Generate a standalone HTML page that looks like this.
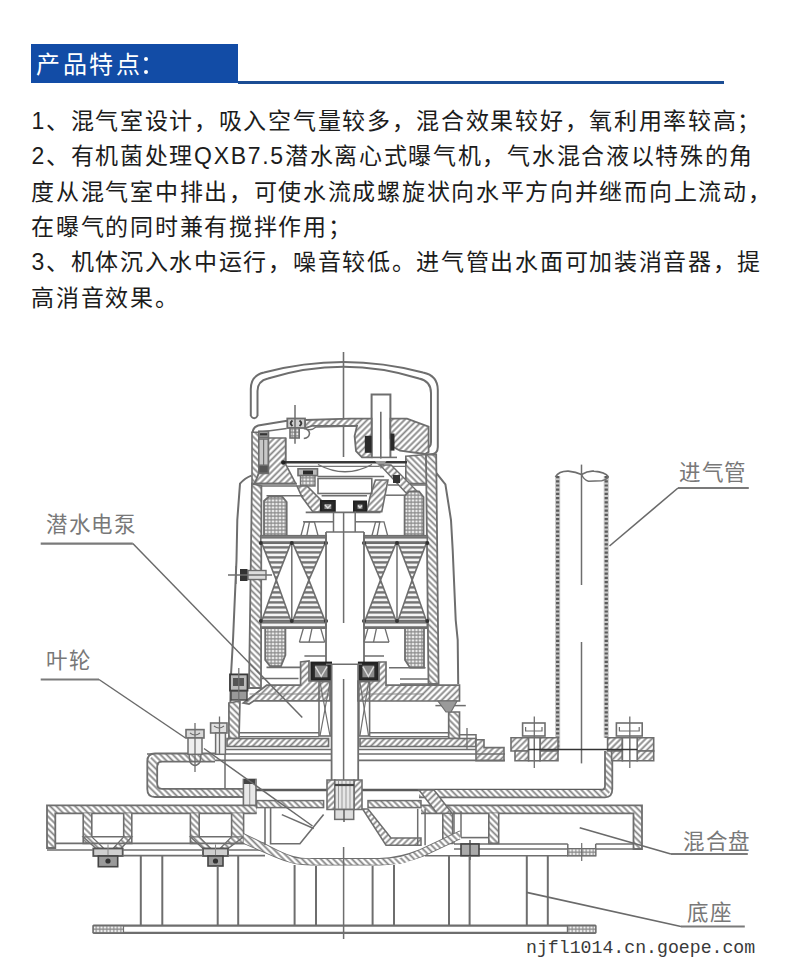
<!DOCTYPE html>
<html lang="zh-CN"><head><meta charset="utf-8">
<style>
html,body{margin:0;padding:0;background:#fff;}
body{width:790px;height:965px;position:relative;overflow:hidden;font-family:"Liberation Sans",sans-serif;}
.hdr{position:absolute;left:31px;top:44px;width:207px;height:39px;background:#124ca6;}
.dot{position:absolute;left:112.7px;width:4.6px;height:4.6px;border-radius:50%;background:#fff;}
.hdr span{position:absolute;left:5px;top:5.8px;color:#fff;font-size:24px;line-height:30px;white-space:nowrap;letter-spacing:2.5px;}
.hline{position:absolute;left:238px;top:81px;width:486px;height:2.8px;background:#1b4d94;}
.txt{position:absolute;left:31.4px;top:104.1px;font-size:23px;line-height:35.3px;letter-spacing:1.7px;color:#1c1c1c;white-space:nowrap;}
svg{position:absolute;left:0;top:0;}
.lbl{position:absolute;font-family:"Liberation Serif",serif;font-size:21.5px;line-height:24px;color:#787878;white-space:nowrap;font-weight:300;letter-spacing:0.6px;}
.wm{position:absolute;left:526px;top:938px;font-family:"Liberation Mono",monospace;font-size:18.2px;line-height:20px;color:#3a3a3a;white-space:nowrap;}
</style></head><body>
<div class="hdr"><span>产品特点</span><i class="dot" style="top:12.6px"></i><i class="dot" style="top:25.8px"></i></div>
<div class="hline"></div>
<div class="txt">1、混气室设计，吸入空气量较多，混合效果较好，氧利用率较高；<br>2、有机菌处理QXB7.5潜水离心式曝气机，气水混合液以特殊的角<br>度从混气室中排出，可使水流成螺旋状向水平方向并继而向上流动，<br>在曝气的同时兼有搅拌作用；<br>3、机体沉入水中运行，噪音较低。进气管出水面可加装消音器，提<br>高消音效果。</div>
<svg width="790" height="965" viewBox="0 0 790 965">
<defs>
<pattern id="ha" patternUnits="userSpaceOnUse" width="4.4" height="4.4" patternTransform="rotate(-45)"><rect width="4.4" height="4.4" fill="#fff"/><rect y="1.3" width="4.4" height="1.8" fill="#858585"/></pattern>
<pattern id="hb" patternUnits="userSpaceOnUse" width="4.4" height="4.4" patternTransform="rotate(45)"><rect width="4.4" height="4.4" fill="#fff"/><rect y="1.3" width="4.4" height="1.8" fill="#858585"/></pattern>
<pattern id="xh" patternUnits="userSpaceOnUse" width="3.5" height="3.5"><rect width="3.5" height="3.5" fill="#f0f0f0"/><path d="M0,1.75H3.5M1.75,0V3.5" stroke="#8a8a8a" stroke-width="1.1"/></pattern>
<pattern id="st" patternUnits="userSpaceOnUse" width="4" height="5"><rect width="4" height="5" fill="#f4f4f4"/><rect y="1.2" width="4" height="2.4" fill="#747474"/></pattern>
<pattern id="dt" patternUnits="userSpaceOnUse" x="555" y="0" width="5.1" height="4.2"><rect width="5.1" height="4.2" fill="#c4c4c4"/><rect x="1" y="0.8" width="3.1" height="2.2" fill="#5e5e5e"/></pattern>
</defs>
<path d="M250.8,416 L250.8,389 Q250.8,375.5 264,372.5 Q343.5,351.5 423,372.5 Q437.8,375.5 437.8,390 L437.8,447 Q437.8,454.5 430,454.5 L426,454.5" stroke="#6e6e6e" stroke-width="2" fill="none"/>
<path d="M257.5,416 L257.5,391 Q257.5,381 268,378.5 Q343.5,355 419,378.5 Q431,381 431,393 L431,442 Q431,448 426,448" stroke="#6e6e6e" stroke-width="2" fill="none"/>
<path d="M250.8,416 Q254.2,420.5 257.5,416" stroke="#6e6e6e" stroke-width="2" fill="none"/>
<line x1="343.5" y1="352" x2="343.5" y2="457" stroke="#6e6e6e" stroke-width="1.6"/>
<path d="M371.6,458 L371.6,394.4 L390.4,394.4 L390.4,458" stroke="#6e6e6e" stroke-width="2" fill="none"/>
<line x1="380.8" y1="411.8" x2="380.8" y2="458.5" stroke="#6e6e6e" stroke-width="1.6"/>
<line x1="371.6" y1="457.4" x2="397" y2="457.4" stroke="#6e6e6e" stroke-width="1.6"/>
<path d="M305,420 L350,418.7 L371.6,418.7 L371.6,457.4 L362,457.4 L356,451 L354.6,436 L357,425.8 L312,425.8 L305,428 Z" stroke="#6e6e6e" stroke-width="1.8" fill="url(#ha)"/>
<rect x="364.8" y="435.8" width="6.8" height="17" fill="#2a2a2a"/>
<path d="M390.4,418.7 L407,418.7 L428.6,426.6 L428.6,452 L425,454 L400,450.6 L393,447 L390.4,438 Z" stroke="#6e6e6e" stroke-width="1.8" fill="url(#ha)"/>
<rect x="390.4" y="433.5" width="4.1" height="17.1" fill="#2a2a2a"/>
<path d="M252.5,433 Q253,427 258.2,425.5 L285.6,421 L303.8,419.8" stroke="#6e6e6e" stroke-width="2" fill="none"/>
<line x1="258.8" y1="432.3" x2="286.7" y2="428.5" stroke="#6e6e6e" stroke-width="1.6"/>
<line x1="285.6" y1="438" x2="285.6" y2="464" stroke="#6e6e6e" stroke-width="1.8"/>
<path d="M305,428 Q310,432 316,427 L357,426" stroke="#6e6e6e" stroke-width="1.4" fill="none"/>
<rect x="287.3" y="418.5" width="17.7" height="9.5" stroke="#6e6e6e" stroke-width="1.8" fill="#d0d0d0"/>
<path d="M292.5,420.5 Q288.8,423.3 292.5,426 M299.5,420.5 Q303.2,423.3 299.5,426" stroke="#3a3a3a" stroke-width="2" fill="none"/>
<rect x="290" y="427.8" width="9.2" height="10.2" stroke="#6e6e6e" stroke-width="1.6" fill="url(#xh)"/>
<line x1="295" y1="405" x2="295" y2="443.7" stroke="#6e6e6e" stroke-width="1.5"/>
<path d="M303.8,428.5 Q309.5,429.5 309.5,433.5 Q309,438 303.8,438.5" stroke="#6e6e6e" stroke-width="1.6" fill="none"/>
<path d="M252,432.3 L258.8,432.3 L258.8,473.4 L254.8,483.6 L252,483.6 Z" stroke="#6e6e6e" stroke-width="1.6" fill="url(#hb)"/>
<rect x="258.8" y="431.2" width="9.7" height="6.3" stroke="#6e6e6e" stroke-width="1.6" fill="#9a9a9a"/>
<line x1="260" y1="434.3" x2="267.3" y2="434.3" stroke="#333" stroke-width="2.2"/>
<rect x="258.8" y="439" width="9.7" height="26.4" stroke="#6e6e6e" stroke-width="1.6" fill="#c8c8c8"/>
<line x1="263.6" y1="439" x2="263.6" y2="465.4" stroke="#6e6e6e" stroke-width="1.2"/>
<rect x="258.8" y="465.4" width="9.7" height="8" stroke="#6e6e6e" stroke-width="1.2" fill="#555"/>
<path d="M268.5,438 L285.6,438 L285.6,464 L295.8,483.6 L254.8,483.6 L258.8,473.4 L268.5,473.4 Z" stroke="#6e6e6e" stroke-width="1.6" fill="url(#ha)"/>
<line x1="252" y1="483.6" x2="296.8" y2="483.6" stroke="#6e6e6e" stroke-width="1.8"/>
<line x1="261.4" y1="486" x2="296.8" y2="486" stroke="#6e6e6e" stroke-width="1.5"/>
<path d="M251.9,483.6 L261.4,486 L261,688 L249,688 Z" stroke="#6e6e6e" stroke-width="1.8" fill="url(#hb)"/>
<path d="M251.4,475.6 Q245,478 240,483.6 L237.3,520 L236.5,560 L233,640 L230.7,680 L230,731" stroke="#6e6e6e" stroke-width="2" fill="none"/>
<path d="M436.2,472.8 L445.4,484.4 L451,520 L452.7,550 L455.7,620 L457.7,640 L458.2,684" stroke="#6e6e6e" stroke-width="2" fill="none"/>
<path d="M405.8,456.3 L426,454.5 L427.3,483.6 L405.8,483.6 Z" stroke="#6e6e6e" stroke-width="1.6" fill="url(#hb)"/>
<path d="M426,454.5 L436.2,454.5 L438.6,684 L428.5,684 Z" stroke="#6e6e6e" stroke-width="1.8" fill="url(#hb)"/>
<line x1="388" y1="485" x2="427.3" y2="485" stroke="#6e6e6e" stroke-width="1.6"/>
<rect x="248" y="570.5" width="18" height="9" stroke="#6e6e6e" stroke-width="1.4" fill="#dcdcdc"/>
<rect x="240" y="569" width="7.5" height="12" fill="#333"/>
<line x1="228" y1="575" x2="272" y2="575" stroke="#6e6e6e" stroke-width="1.3"/>
<line x1="236" y1="566" x2="236" y2="584" stroke="#6e6e6e" stroke-width="1.2"/>
<line x1="283.3" y1="462.2" x2="407" y2="462.2" stroke="#383838" stroke-width="2.4"/>
<line x1="286" y1="466.3" x2="405" y2="466.3" stroke="#777" stroke-width="1.3"/>
<circle cx="283.3" cy="462.5" r="2.3" fill="#222"/>
<path d="M318,464.5 Q345,479 372,464.5" stroke="#6e6e6e" stroke-width="1.4" fill="none"/>
<path d="M375,461 L386.5,461 L381,469 Z" fill="#999"/>
<line x1="317.5" y1="476.5" x2="384.2" y2="476.5" stroke="#6e6e6e" stroke-width="1.6"/>
<rect x="298" y="468.8" width="19.5" height="6.8" stroke="#6e6e6e" stroke-width="1.6" fill="#bbb"/>
<rect x="303" y="470.5" width="10" height="4" fill="#2a2a2a"/>
<rect x="300.5" y="475.6" width="14.5" height="10.4" stroke="#6e6e6e" stroke-width="1.4" fill="url(#xh)"/>
<path d="M297,486 L307,486 L321,500 L321,512 L313,512 L302,497 Z" stroke="#6e6e6e" stroke-width="1.6" fill="url(#ha)"/>
<path d="M375.4,480 L388,480 L381.8,511.6 L366.6,511.6 L370,497 Z" stroke="#6e6e6e" stroke-width="1.6" fill="url(#ha)"/>
<rect x="318" y="478.5" width="53.8" height="15" stroke="#6e6e6e" stroke-width="1.6" fill="none"/>
<line x1="321.6" y1="495.8" x2="367" y2="495.8" stroke="#6e6e6e" stroke-width="1.5"/>
<rect x="320.9" y="501" width="13.9" height="11" stroke="#222" stroke-width="2" fill="#2a2a2a"/>
<rect x="324.4" y="504" width="6.9" height="5" fill="#8a8a8a"/>
<path d="M324.9,505 L327.85,508 L330.8,505" stroke="#dedede" stroke-width="1.4" fill="none"/>
<rect x="354" y="501.5" width="12" height="10.3" stroke="#222" stroke-width="2" fill="#2a2a2a"/>
<rect x="357.5" y="504.5" width="5" height="4.3" fill="#8a8a8a"/>
<path d="M358,505.5 L360,507.8 L362,505.5" stroke="#dedede" stroke-width="1.4" fill="none"/>
<path d="M380,465 L391,465 L417,491 L409,496 Z" stroke="#6e6e6e" stroke-width="1.4" fill="url(#ha)"/>
<rect x="393" y="475" width="7" height="8" fill="#333"/>
<line x1="305.7" y1="512.3" x2="380.5" y2="512.3" stroke="#6e6e6e" stroke-width="1.7"/>
<line x1="303" y1="521.8" x2="333.5" y2="521.8" stroke="#6e6e6e" stroke-width="1.5"/>
<line x1="355.2" y1="521.8" x2="380.5" y2="521.8" stroke="#6e6e6e" stroke-width="1.5"/>
<line x1="333.5" y1="512.3" x2="333.5" y2="532" stroke="#6e6e6e" stroke-width="1.5"/>
<line x1="355.2" y1="511.6" x2="355.2" y2="532" stroke="#6e6e6e" stroke-width="1.5"/>
<line x1="326" y1="532" x2="364" y2="532" stroke="#6e6e6e" stroke-width="1.6"/>
<line x1="266.5" y1="495.8" x2="303" y2="495.8" stroke="#6e6e6e" stroke-width="1.5"/>
<line x1="385.6" y1="495.2" x2="408.4" y2="495.2" stroke="#6e6e6e" stroke-width="1.5"/>
<line x1="343.6" y1="512" x2="343.6" y2="623" stroke="#6e6e6e" stroke-width="1.5"/>
<path d="M264,501 L269,496.5 L282,496.5 L286.7,502 L286.7,535.7 L264,535.7 Z" stroke="#6e6e6e" stroke-width="1.8" fill="url(#xh)"/>
<path d="M404.6,535.7 L404.6,496 L409,491.4 L419,491.4 L423.5,497 L423.5,535.7 Z" stroke="#6e6e6e" stroke-width="1.8" fill="url(#xh)"/>
<path d="M300.6,537 L304.6,521.8 L314.4,521.8 L318.4,537 M309.5,521.8 L306.5,537" stroke="#6e6e6e" stroke-width="1.3" fill="none"/>
<path d="M371.6,537 L375.6,521.8 L384,521.8 L388,537 M379.8,521.8 L376.8,537" stroke="#6e6e6e" stroke-width="1.3" fill="none"/>
<path d="M299.4,642.1 L303.4,628.2 L320.7,628.2 L324.7,642.1 M312.04999999999995,628.2 L309.04999999999995,642.1" stroke="#6e6e6e" stroke-width="1.3" fill="none"/>
<path d="M364,642.1 L368,628.2 L385,628.2 L389,642.1 M376.5,628.2 L373.5,642.1" stroke="#6e6e6e" stroke-width="1.3" fill="none"/>
<line x1="299.4" y1="642.1" x2="324.7" y2="642.1" stroke="#6e6e6e" stroke-width="1.5"/>
<line x1="364" y1="642.1" x2="389" y2="642.1" stroke="#6e6e6e" stroke-width="1.5"/>
<rect x="260.8" y="535.7" width="65.2" height="7.6" stroke="#6e6e6e" stroke-width="1.6" fill="url(#st)"/>
<rect x="260.8" y="620.6" width="65.2" height="7.6" stroke="#6e6e6e" stroke-width="1.6" fill="url(#st)"/>
<path d="M261.8,543.3 L290.8,543.3 L276.3,580 Z" stroke="#6e6e6e" stroke-width="1.6" fill="url(#st)"/>
<path d="M276.3,580 L290.8,620.6 L261.8,620.6 Z" stroke="#6e6e6e" stroke-width="1.6" fill="url(#st)"/>
<path d="M292.8,543.3 L325,543.3 L308.9,580 Z" stroke="#6e6e6e" stroke-width="1.6" fill="url(#st)"/>
<path d="M308.9,580 L325,620.6 L292.8,620.6 Z" stroke="#6e6e6e" stroke-width="1.6" fill="url(#st)"/>
<line x1="291.8" y1="543.3" x2="291.8" y2="620.6" stroke="#6e6e6e" stroke-width="1.5"/>
<circle cx="260.8" cy="543" r="2" fill="#333"/>
<circle cx="260.8" cy="621" r="2" fill="#333"/>
<circle cx="291.8" cy="543" r="2" fill="#333"/>
<circle cx="291.8" cy="621" r="2" fill="#333"/>
<circle cx="326" cy="543" r="2" fill="#333"/>
<circle cx="326" cy="621" r="2" fill="#333"/>
<rect x="364" y="535.7" width="63.3" height="7.6" stroke="#6e6e6e" stroke-width="1.6" fill="url(#st)"/>
<rect x="364" y="620.6" width="63.3" height="7.6" stroke="#6e6e6e" stroke-width="1.6" fill="url(#st)"/>
<path d="M365,543.3 L396,543.3 L380.5,580 Z" stroke="#6e6e6e" stroke-width="1.6" fill="url(#st)"/>
<path d="M380.5,580 L396,620.6 L365,620.6 Z" stroke="#6e6e6e" stroke-width="1.6" fill="url(#st)"/>
<path d="M398,543.3 L426.3,543.3 L412.15,580 Z" stroke="#6e6e6e" stroke-width="1.6" fill="url(#st)"/>
<path d="M412.15,580 L426.3,620.6 L398,620.6 Z" stroke="#6e6e6e" stroke-width="1.6" fill="url(#st)"/>
<line x1="397" y1="543.3" x2="397" y2="620.6" stroke="#6e6e6e" stroke-width="1.5"/>
<circle cx="364" cy="543" r="2" fill="#333"/>
<circle cx="364" cy="621" r="2" fill="#333"/>
<circle cx="397" cy="543" r="2" fill="#333"/>
<circle cx="397" cy="621" r="2" fill="#333"/>
<circle cx="427.3" cy="543" r="2" fill="#333"/>
<circle cx="427.3" cy="621" r="2" fill="#333"/>
<line x1="326" y1="532" x2="326" y2="663.6" stroke="#6e6e6e" stroke-width="1.8"/>
<line x1="364" y1="532" x2="364" y2="663.6" stroke="#6e6e6e" stroke-width="1.8"/>
<path d="M265.2,628.2 L285.4,628.2 L285.4,655 L281,666.1 L270,666.1 L265.2,660 Z" stroke="#6e6e6e" stroke-width="1.8" fill="url(#xh)"/>
<path d="M405,628.2 L424,628.2 L424,667.7 L410,667.7 L405,660 Z" stroke="#6e6e6e" stroke-width="1.8" fill="url(#xh)"/>
<line x1="266.5" y1="667.4" x2="300.6" y2="667.4" stroke="#6e6e6e" stroke-width="1.6"/>
<line x1="389" y1="667.7" x2="425.6" y2="667.7" stroke="#6e6e6e" stroke-width="1.6"/>
<line x1="261.8" y1="678.4" x2="298.5" y2="678.4" stroke="#6e6e6e" stroke-width="1.5"/>
<line x1="400" y1="679" x2="428.5" y2="679" stroke="#6e6e6e" stroke-width="1.5"/>
<line x1="400" y1="684" x2="428.5" y2="684" stroke="#6e6e6e" stroke-width="1.5"/>
<line x1="304.4" y1="656" x2="326" y2="656" stroke="#6e6e6e" stroke-width="1.5"/>
<line x1="364" y1="656" x2="384" y2="656" stroke="#6e6e6e" stroke-width="1.5"/>
<rect x="311.4" y="662.6" width="19.6" height="17.7" stroke="#222" stroke-width="2" fill="#2a2a2a"/>
<rect x="314.9" y="665.6" width="12.6" height="11.7" fill="#8a8a8a"/>
<path d="M315.4,666.6 L321.2,676.3 L327,666.6" stroke="#dedede" stroke-width="1.4" fill="none"/>
<rect x="358.9" y="662.6" width="18.9" height="17.7" stroke="#222" stroke-width="2" fill="#2a2a2a"/>
<rect x="362.4" y="665.6" width="11.9" height="11.7" fill="#8a8a8a"/>
<path d="M362.9,666.6 L368.35,676.3 L373.8,666.6" stroke="#dedede" stroke-width="1.4" fill="none"/>
<line x1="326" y1="664.2" x2="362" y2="664.2" stroke="#6e6e6e" stroke-width="1.5"/>
<path d="M243.4,703 L266.7,685.2 L300.6,685.2 L300.6,662 L309,661 L309,681 L330,681 L330,700.8 L254,700.8 L249,704 Z" stroke="#6e6e6e" stroke-width="1.7" fill="url(#ha)"/>
<path d="M358,681 L379,681 L379,662 L386,662 L386,685.2 L459.5,685.2 L459.5,701 L358,701 Z" stroke="#6e6e6e" stroke-width="1.7" fill="url(#ha)"/>
<line x1="249.5" y1="694" x2="330" y2="694" stroke="#888" stroke-width="1.2"/>
<line x1="358" y1="694" x2="424" y2="694" stroke="#888" stroke-width="1.2"/>
<rect x="230" y="674.4" width="17.5" height="16.2" stroke="#3a3a3a" stroke-width="1.8" fill="#bbb"/>
<rect x="233" y="678" width="11" height="8" fill="#555"/>
<rect x="231" y="691" width="16" height="9" stroke="#444" stroke-width="1.4" fill="#999"/>
<line x1="238.8" y1="668" x2="238.8" y2="702" stroke="#6e6e6e" stroke-width="1.2"/>
<path d="M228.9,703 L240,701 L239,738.5 L228.9,738.5 Z" stroke="#6e6e6e" stroke-width="1.7" fill="url(#hb)"/>
<path d="M448.7,712 L459.5,712 L459.5,738.5 L448.7,738.5 Z" stroke="#6e6e6e" stroke-width="1.7" fill="url(#hb)"/>
<line x1="435.4" y1="705.6" x2="465.8" y2="705.6" stroke="#6e6e6e" stroke-width="1.5"/>
<path d="M438,701 L457,701 L451,712 L446,712 Z" stroke="#6e6e6e" stroke-width="1.2" fill="#9a9a9a"/>
<rect x="319" y="681.6" width="12" height="54.4" stroke="#6e6e6e" stroke-width="1.6" fill="none"/>
<line x1="320" y1="682" x2="330" y2="736" stroke="#6e6e6e" stroke-width="1.2"/>
<line x1="330" y1="682" x2="320" y2="736" stroke="#6e6e6e" stroke-width="1.2"/>
<rect x="358.9" y="681.6" width="10.7" height="54.4" stroke="#6e6e6e" stroke-width="1.6" fill="none"/>
<line x1="359.9" y1="682" x2="368.6" y2="736" stroke="#6e6e6e" stroke-width="1.2"/>
<line x1="368.6" y1="682" x2="359.9" y2="736" stroke="#6e6e6e" stroke-width="1.2"/>
<line x1="239" y1="732.8" x2="319" y2="732.8" stroke="#6e6e6e" stroke-width="1.6"/>
<line x1="239" y1="736.6" x2="319" y2="736.6" stroke="#6e6e6e" stroke-width="1.4"/>
<line x1="369.6" y1="732.8" x2="448.7" y2="732.8" stroke="#6e6e6e" stroke-width="1.6"/>
<line x1="369.6" y1="736.6" x2="448.7" y2="736.6" stroke="#6e6e6e" stroke-width="1.4"/>
<rect x="227" y="738.5" width="101.6" height="8" stroke="#6e6e6e" stroke-width="1.6" fill="url(#ha)"/>
<rect x="360" y="738.5" width="116" height="8" stroke="#6e6e6e" stroke-width="1.6" fill="url(#ha)"/>
<line x1="225" y1="749.5" x2="331.6" y2="749.5" stroke="#6e6e6e" stroke-width="1.5"/>
<line x1="358.2" y1="749.5" x2="476" y2="749.5" stroke="#6e6e6e" stroke-width="1.5"/>
<path d="M459.5,734.7 L476,734.7 L476,739.8" stroke="#6e6e6e" stroke-width="1.5" fill="none"/>
<line x1="467" y1="728" x2="467" y2="749" stroke="#6e6e6e" stroke-width="1.3"/>
<path d="M476,739.8 L484,739.8 L484,747.6 L504,747.6 L504,760.8 L476,760.8 Z" stroke="#6e6e6e" stroke-width="1.6" fill="url(#ha)"/>
<line x1="147" y1="754" x2="331.6" y2="754" stroke="#6e6e6e" stroke-width="1.6"/>
<line x1="160" y1="760.4" x2="331.6" y2="760.4" stroke="#6e6e6e" stroke-width="1.6"/>
<line x1="358.2" y1="754" x2="505" y2="754" stroke="#6e6e6e" stroke-width="1.6"/>
<line x1="358.2" y1="760.4" x2="505" y2="760.4" stroke="#6e6e6e" stroke-width="1.6"/>
<line x1="225" y1="731" x2="225" y2="790" stroke="#6e6e6e" stroke-width="1.5"/>
<line x1="331.6" y1="664" x2="331.6" y2="780" stroke="#6e6e6e" stroke-width="1.8"/>
<line x1="358.2" y1="664" x2="358.2" y2="780" stroke="#6e6e6e" stroke-width="1.8"/>
<line x1="343.6" y1="679" x2="343.6" y2="782" stroke="#6e6e6e" stroke-width="1.5"/>
<path d="M155,753.5 L215,753.5 L215,761.7 L162,761.7 L157.2,766.5 L157.2,784 L162,788.9 L243.5,788.9 L243.5,797 L155,797 L147.3,789 L147.3,761.5 Z" fill="url(#hb)"/>
<path d="M215,753.5 L155,753.5 Q147.3,753.5 147.3,761.5 L147.3,789 Q147.3,797 155,797 L243.5,797" stroke="#6e6e6e" stroke-width="1.8" fill="none"/>
<path d="M215,761.7 L162,761.7 Q157.2,761.7 157.2,766.5 L157.2,784 Q157.2,788.9 162,788.9 L243.5,788.9" stroke="#6e6e6e" stroke-width="1.8" fill="none"/>
<rect x="186" y="729.6" width="18" height="8.4" stroke="#6e6e6e" stroke-width="1.6" fill="#d8d8d8"/>
<rect x="188" y="738" width="14" height="16.3" stroke="#6e6e6e" stroke-width="1.5" fill="#eee"/>
<path d="M189,754.3 L190,762 Q195,769 200,762 L201,754.3" stroke="#6e6e6e" stroke-width="1.5" fill="none"/>
<line x1="195" y1="723" x2="195" y2="772" stroke="#6e6e6e" stroke-width="1.3"/>
<path d="M190,733 Q195,737 200,733" stroke="#6e6e6e" stroke-width="1.2" fill="none"/>
<rect x="210.6" y="723" width="16.4" height="10" stroke="#6e6e6e" stroke-width="1.6" fill="#e0e0e0"/>
<path d="M214,726 Q219,730 224,726" stroke="#6e6e6e" stroke-width="1.2" fill="none"/>
<rect x="215.6" y="733" width="9.8" height="21.3" stroke="#6e6e6e" stroke-width="1.5" fill="#eee"/>
<line x1="219.5" y1="716.5" x2="219.5" y2="754" stroke="#6e6e6e" stroke-width="1.3"/>
<rect x="243.4" y="779.4" width="12.6" height="32.9" stroke="#6e6e6e" stroke-width="1.6" fill="#e8e8e8"/>
<line x1="249.7" y1="779.4" x2="249.7" y2="812.3" stroke="#999" stroke-width="1.1"/>
<rect x="244" y="779" width="11" height="5" fill="#444"/>
<rect x="244" y="807" width="11" height="5" fill="#444"/>
<line x1="256" y1="790" x2="605" y2="790" stroke="#5a5a5a" stroke-width="2.4"/>
<path d="M419,790 L604,790 L605,786 L605,751 L612.3,751 L612.3,789 L606,797.3 L419,797.3 Z" fill="url(#hb)"/>
<path d="M605,751 L605,786 Q605,790 601,790" stroke="#6e6e6e" stroke-width="1.8" fill="none"/>
<path d="M419,797.3 L605,797.3 Q612.3,797.3 612.3,789 L612.3,751" stroke="#6e6e6e" stroke-width="1.8" fill="none"/>
<line x1="557.65" y1="476" x2="557.65" y2="749" stroke="#c8c8c8" stroke-width="5.1"/>
<line x1="557.65" y1="476" x2="557.65" y2="749" stroke="#5a5a5a" stroke-width="3.2" stroke-dasharray="2.2 2"/>
<line x1="606.25" y1="476" x2="606.25" y2="737.7" stroke="#c8c8c8" stroke-width="5.1"/>
<line x1="606.25" y1="476" x2="606.25" y2="737.7" stroke="#5a5a5a" stroke-width="3.2" stroke-dasharray="2.2 2"/>
<path d="M555.4,477 Q559,471 568.3,471.2 Q576,472 581.5,474.5 Q588,470.5 594,471.2 Q605,472 608.5,477" stroke="#6e6e6e" stroke-width="1.7" fill="none"/>
<path d="M581.5,474.5 Q584,480 588.5,481.3 L601.7,480.8 Q606,480 608.5,477" stroke="#6e6e6e" stroke-width="1.5" fill="none"/>
<line x1="581.5" y1="464.6" x2="581.5" y2="585" stroke="#6e6e6e" stroke-width="1.5"/>
<line x1="581.5" y1="642" x2="581.5" y2="763.4" stroke="#6e6e6e" stroke-width="1.5"/>
<path d="M511,737.7 L528.6,737.7 L528.6,751 L511,751 Z" stroke="#6e6e6e" stroke-width="1.6" fill="url(#ha)"/>
<path d="M540,737.7 L558,737.7 L558,751 L540,751 Z" stroke="#6e6e6e" stroke-width="1.6" fill="url(#ha)"/>
<path d="M515,751 L528.6,751 L528.6,760.8 L515,760.8 Z" stroke="#6e6e6e" stroke-width="1.6" fill="url(#ha)"/>
<path d="M540,751 L558,751 L558,760.8 L540,760.8 Z" stroke="#6e6e6e" stroke-width="1.6" fill="url(#ha)"/>
<rect x="528.6" y="737.7" width="11.4" height="23.1" stroke="#6e6e6e" stroke-width="1.6" fill="#fff"/>
<line x1="534.3" y1="737.7" x2="534.3" y2="760.8" stroke="#999" stroke-width="1"/>
<rect x="522.6" y="723" width="22.4" height="13" stroke="#6e6e6e" stroke-width="1.6" fill="#fff"/>
<path d="M525.6,727 L525.6,731 L542,731 L542,727" stroke="#6e6e6e" stroke-width="1.2" fill="none"/>
<line x1="534.3" y1="716.5" x2="534.3" y2="768" stroke="#6e6e6e" stroke-width="1.3"/>
<path d="M607.6,737.7 L622.4,737.7 L622.4,751 L607.6,751 Z" stroke="#6e6e6e" stroke-width="1.6" fill="url(#ha)"/>
<path d="M637.2,737.7 L653.7,737.7 L653.7,751 L637.2,751 Z" stroke="#6e6e6e" stroke-width="1.6" fill="url(#ha)"/>
<path d="M611.6,751 L622.4,751 L622.4,760.8 L611.6,760.8 Z" stroke="#6e6e6e" stroke-width="1.6" fill="url(#ha)"/>
<path d="M637.2,751 L653.7,751 L653.7,760.8 L637.2,760.8 Z" stroke="#6e6e6e" stroke-width="1.6" fill="url(#ha)"/>
<rect x="622.4" y="737.7" width="14.8" height="23.1" stroke="#6e6e6e" stroke-width="1.6" fill="#fff"/>
<line x1="629.8" y1="737.7" x2="629.8" y2="760.8" stroke="#999" stroke-width="1"/>
<rect x="616.4" y="723" width="25.8" height="13" stroke="#6e6e6e" stroke-width="1.6" fill="#fff"/>
<path d="M619.4,727 L619.4,731 L639.2,731 L639.2,727" stroke="#6e6e6e" stroke-width="1.2" fill="none"/>
<line x1="629.8" y1="716.5" x2="629.8" y2="768" stroke="#6e6e6e" stroke-width="1.3"/>
<line x1="528.6" y1="749.5" x2="637.2" y2="749.5" stroke="#333" stroke-width="1.6"/>
<path d="M256.7,805.3 L47,805.3 L47,848 L55.3,848 L55.3,813.3 L256.7,813.3" stroke="#6e6e6e" stroke-width="1.8" fill="url(#hb)"/>
<path d="M421,805.3 L642,805.3 L642,849 L633.5,849 L633.5,813.3 L421,813.3" stroke="#6e6e6e" stroke-width="1.8" fill="url(#hb)"/>
<rect x="256.7" y="805.3" width="0" height="8" fill="url(#hb)"/>
<path d="M83.2,813.3 L83.2,843.4 L91.8,843.4 L91.8,813.3" stroke="#6e6e6e" stroke-width="1.6" fill="url(#hb)"/>
<path d="M123.7,813.3 L123.7,843.4 L131.8,843.4 L131.8,813.3" stroke="#6e6e6e" stroke-width="1.6" fill="url(#hb)"/>
<path d="M190.4,813.3 L190.4,843.4 L199.2,843.4 L199.2,813.3" stroke="#6e6e6e" stroke-width="1.6" fill="url(#hb)"/>
<path d="M442.8,813.3 L442.8,843.4 L452.6,843.4 L452.6,813.3" stroke="#6e6e6e" stroke-width="1.6" fill="url(#hb)"/>
<path d="M488.8,813.3 L488.8,843.4 L498.7,843.4 L498.7,813.3" stroke="#6e6e6e" stroke-width="1.6" fill="url(#hb)"/>
<path d="M231.6,813.3 L231.6,843.4 L243.6,843.4 L243.6,813.3" stroke="#6e6e6e" stroke-width="1.6" fill="url(#hb)"/>
<line x1="91.8" y1="836.8" x2="123.7" y2="836.8" stroke="#6e6e6e" stroke-width="1.6"/>
<line x1="199.2" y1="836.8" x2="231.6" y2="836.8" stroke="#6e6e6e" stroke-width="1.6"/>
<line x1="461" y1="837.6" x2="488.8" y2="837.6" stroke="#6e6e6e" stroke-width="1.6"/>
<path d="M83.2,836.8 L91.8,836.8 L104,848.5 L96,848.5 Z" stroke="#6e6e6e" stroke-width="1.3" fill="url(#hb)"/>
<path d="M190.4,836.8 L199.2,836.8 L211,848.5 L203,848.5 Z" stroke="#6e6e6e" stroke-width="1.3" fill="url(#hb)"/>
<path d="M131.8,836.8 L123.7,836.8 L113,848.5 L121,848.5 Z" stroke="#6e6e6e" stroke-width="1.3" fill="url(#hb)"/>
<path d="M243.6,836.8 L231.6,836.8 L220,848.5 L228,848.5 Z" stroke="#6e6e6e" stroke-width="1.3" fill="url(#hb)"/>
<rect x="93.3" y="848.5" width="29.4" height="7.5" stroke="#555" stroke-width="1.8" fill="#cfcfcf"/>
<line x1="108" y1="844.5" x2="108" y2="856" stroke="#888" stroke-width="1"/>
<rect x="98.3" y="856" width="19.4" height="10.7" stroke="#444" stroke-width="1.6" fill="#9a9a9a"/>
<circle cx="108" cy="861" r="2.6" fill="#333"/>
<rect x="203" y="848.5" width="25" height="7.5" stroke="#555" stroke-width="1.8" fill="#cfcfcf"/>
<line x1="215.5" y1="844.5" x2="215.5" y2="856" stroke="#888" stroke-width="1"/>
<rect x="208" y="856" width="15" height="10" stroke="#444" stroke-width="1.6" fill="#9a9a9a"/>
<circle cx="215.5" cy="861" r="2.6" fill="#333"/>
<line x1="55.3" y1="843.4" x2="265" y2="843.4" stroke="#6e6e6e" stroke-width="1.6"/>
<line x1="47" y1="850" x2="93.3" y2="850" stroke="#6e6e6e" stroke-width="1.6"/>
<line x1="122.7" y1="850" x2="203" y2="850" stroke="#6e6e6e" stroke-width="1.6"/>
<line x1="228" y1="850" x2="265" y2="850" stroke="#6e6e6e" stroke-width="1.6"/>
<line x1="122.7" y1="855.6" x2="203" y2="855.6" stroke="#6e6e6e" stroke-width="1.6"/>
<line x1="228" y1="855.6" x2="265" y2="855.6" stroke="#6e6e6e" stroke-width="1.6"/>
<line x1="454" y1="811.3" x2="454" y2="844" stroke="#6e6e6e" stroke-width="1.5"/>
<line x1="461" y1="811.3" x2="461" y2="837.6" stroke="#6e6e6e" stroke-width="1.5"/>
<line x1="454" y1="844" x2="567.8" y2="844" stroke="#6e6e6e" stroke-width="1.6"/>
<line x1="595.7" y1="844" x2="633.5" y2="844" stroke="#6e6e6e" stroke-width="1.6"/>
<line x1="454" y1="849" x2="642" y2="849" stroke="#6e6e6e" stroke-width="1.6"/>
<line x1="425" y1="855.7" x2="567.8" y2="855.7" stroke="#6e6e6e" stroke-width="1.6"/>
<path d="M567.8,844 L567.8,855.7 L595.7,855.7 L595.7,844" stroke="#6e6e6e" stroke-width="1.5" fill="none"/>
<rect x="567.8" y="848.5" width="27.9" height="7.2" stroke="#6e6e6e" stroke-width="1" fill="url(#xh)"/>
<line x1="581.7" y1="843" x2="581.7" y2="861" stroke="#6e6e6e" stroke-width="1.2"/>
<rect x="461" y="844" width="18" height="11.7" stroke="#444" stroke-width="1.6" fill="#aaa"/>
<line x1="470" y1="840" x2="470" y2="860" stroke="#444" stroke-width="1.3"/>
<path d="M243.6,834 Q262,843 278,851 Q296,860 312.4,859 L379.3,859 Q400,858 420,850 L460,831.3" stroke="#6e6e6e" stroke-width="1.8" fill="none"/>
<path d="M243.6,843 Q262,851 276,857 Q294,865 312.4,864.7 L379.3,864.7 Q402,864 424,855.5 L460,838.5" stroke="#6e6e6e" stroke-width="1.8" fill="none"/>
<path d="M243.6,834 L262,843 L278,851 L296,858.5 L312.4,859 L379.3,859 L400,858 L420,850 L460,831.3 L460,838.5 L424,855.5 L402,864 L379.3,864.7 L312.4,864.7 L294,863.5 L276,857 L262,851 L243.6,843 Z" fill="url(#hb)"/>
<path d="M270.6,807.6 L270.6,843.8 L299.9,843.8 L323.6,814.6" stroke="#6e6e6e" stroke-width="1.6" fill="none"/>
<line x1="281.8" y1="814.6" x2="313.8" y2="828.5" stroke="#6e6e6e" stroke-width="1.5"/>
<line x1="265" y1="807.6" x2="265" y2="845" stroke="#6e6e6e" stroke-width="1.6"/>
<path d="M362.6,809 L368,809 L391,838 L421,838 L421,845.2 L386,845.2 Z" stroke="#6e6e6e" stroke-width="1.5" fill="url(#ha)"/>
<line x1="417.7" y1="808.8" x2="417.7" y2="845.2" stroke="#6e6e6e" stroke-width="1.5"/>
<line x1="425.1" y1="808.8" x2="425.1" y2="845.2" stroke="#6e6e6e" stroke-width="1.5"/>
<rect x="256.7" y="800.6" width="66.9" height="7" stroke="#6e6e6e" stroke-width="1.5" fill="url(#hb)"/>
<rect x="368" y="800.6" width="53" height="7" stroke="#6e6e6e" stroke-width="1.5" fill="url(#hb)"/>
<path d="M419,790 L434,790 L452,813.3 L437,813.3 Z" stroke="#6e6e6e" stroke-width="1.5" fill="url(#ha)"/>
<path d="M327,780 L334.8,780 L334.8,809.5 L327,809.5 Z" stroke="#6e6e6e" stroke-width="1.6" fill="url(#ha)"/>
<path d="M354,780 L362,780 L362,809.5 L354,809.5 Z" stroke="#6e6e6e" stroke-width="1.6" fill="url(#ha)"/>
<rect x="334.8" y="780" width="19.2" height="29.5" stroke="#6e6e6e" stroke-width="1.6" fill="#e6e6e6"/>
<line x1="338.5" y1="781" x2="338.5" y2="809" stroke="#999" stroke-width="1"/>
<line x1="342" y1="781" x2="342" y2="809" stroke="#999" stroke-width="1"/>
<line x1="346" y1="781" x2="346" y2="809" stroke="#999" stroke-width="1"/>
<line x1="350" y1="781" x2="350" y2="809" stroke="#999" stroke-width="1"/>
<line x1="335" y1="785" x2="354" y2="785" stroke="#444" stroke-width="2.2"/>
<rect x="334.7" y="809.5" width="19" height="9.9" stroke="#6e6e6e" stroke-width="1.5" fill="#ddd"/>
<line x1="344" y1="809.5" x2="344" y2="822" stroke="#555" stroke-width="1.4"/>
<line x1="343.6" y1="847" x2="343.6" y2="939" stroke="#6e6e6e" stroke-width="1.5"/>
<line x1="140.8" y1="856" x2="140.8" y2="925.6" stroke="#6e6e6e" stroke-width="2"/>
<line x1="162.3" y1="856" x2="162.3" y2="925.6" stroke="#6e6e6e" stroke-width="2"/>
<line x1="217.7" y1="866" x2="217.7" y2="925.6" stroke="#6e6e6e" stroke-width="2"/>
<line x1="238.2" y1="856" x2="238.2" y2="925.6" stroke="#6e6e6e" stroke-width="2"/>
<line x1="294.6" y1="865" x2="294.6" y2="925.6" stroke="#6e6e6e" stroke-width="2"/>
<line x1="316" y1="866" x2="316" y2="925.6" stroke="#6e6e6e" stroke-width="2"/>
<line x1="372.6" y1="866" x2="372.6" y2="925.6" stroke="#6e6e6e" stroke-width="2"/>
<line x1="394" y1="865" x2="394" y2="925.6" stroke="#6e6e6e" stroke-width="2"/>
<line x1="449" y1="856" x2="449" y2="925.6" stroke="#6e6e6e" stroke-width="2"/>
<line x1="469.6" y1="856" x2="469.6" y2="925.6" stroke="#6e6e6e" stroke-width="2"/>
<line x1="526.8" y1="856" x2="526.8" y2="925.6" stroke="#6e6e6e" stroke-width="2"/>
<line x1="547.8" y1="856" x2="547.8" y2="925.6" stroke="#6e6e6e" stroke-width="2"/>
<line x1="93.2" y1="925.6" x2="595.7" y2="925.6" stroke="#6e6e6e" stroke-width="2.2"/>
<line x1="93.2" y1="932.9" x2="595.7" y2="932.9" stroke="#6e6e6e" stroke-width="2.2"/>
<line x1="93.2" y1="925.6" x2="93.2" y2="932.9" stroke="#6e6e6e" stroke-width="1.6"/>
<line x1="595.7" y1="925.6" x2="595.7" y2="932.9" stroke="#6e6e6e" stroke-width="1.6"/>
<rect x="93.2" y="925.6" width="30.3" height="7.3" stroke="#6e6e6e" stroke-width="1.2" fill="url(#xh)"/>
<rect x="567.4" y="925.6" width="28.3" height="7.3" stroke="#6e6e6e" stroke-width="1.2" fill="url(#xh)"/>
<path d="M40.7,543.6 L132.8,543.6" stroke="#7a7a7a" stroke-width="2.2" fill="none"/>
<path d="M132.8,543.6 L302.3,717.5" stroke="#6a6a6a" stroke-width="1.5" fill="none"/>
<path d="M40.7,679.5 L99,679.5" stroke="#7a7a7a" stroke-width="2.2" fill="none"/>
<path d="M99,679.5 L185.5,738" stroke="#6a6a6a" stroke-width="1.5" fill="none"/>
<path d="M204,748.5 L312.5,826" stroke="#6a6a6a" stroke-width="1.5" fill="none"/>
<path d="M748.8,488 L678,488" stroke="#7a7a7a" stroke-width="2.2" fill="none"/>
<path d="M678,488 L609.5,546" stroke="#6a6a6a" stroke-width="1.6" fill="none"/>
<path d="M747.8,854 L670.9,854" stroke="#7a7a7a" stroke-width="2.2" fill="none"/>
<path d="M670.9,854 L579.7,827.7" stroke="#6a6a6a" stroke-width="1.6" fill="none"/>
<path d="M744.8,926.5 L681,926.5" stroke="#7a7a7a" stroke-width="2.2" fill="none"/>
<path d="M681,926.5 L526.6,892.4" stroke="#6a6a6a" stroke-width="1.6" fill="none"/>
</svg>
<div class="lbl" style="left:46px;top:513px;">潜水电泵</div>
<div class="lbl" style="left:46px;top:649px;">叶轮</div>
<div class="lbl" style="left:679px;top:461px;">进气管</div>
<div class="lbl" style="left:683px;top:830px;">混合盘</div>
<div class="lbl" style="left:687px;top:901px;">底座</div>
<div class="wm">njfl1014.cn.goepe.com</div>
</body></html>
